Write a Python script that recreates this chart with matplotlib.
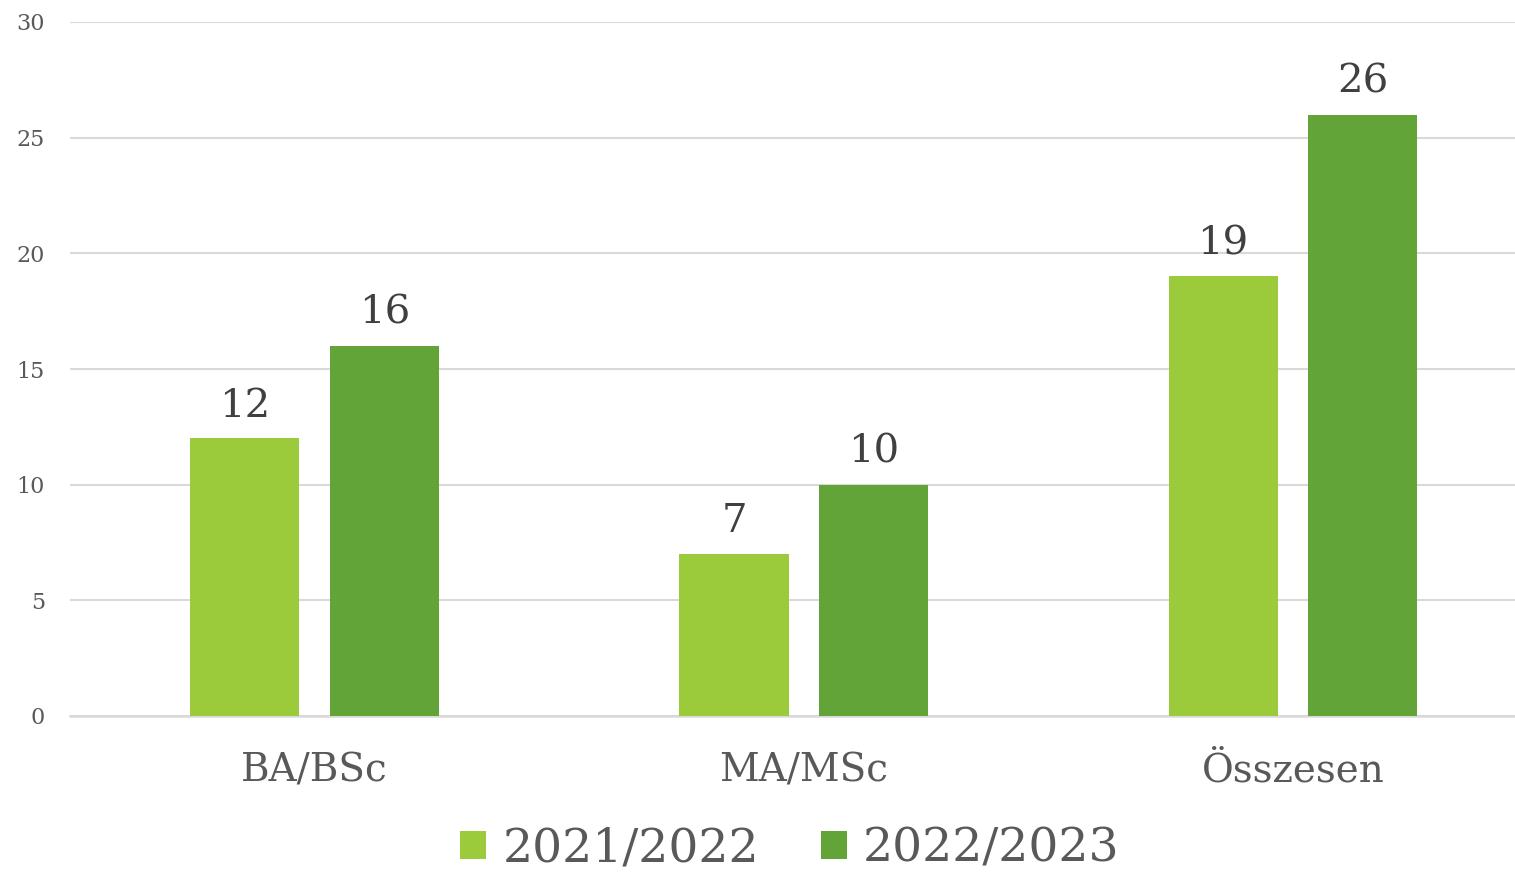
import matplotlib
matplotlib.use("Agg")
import matplotlib.pyplot as plt
import numpy as np
from matplotlib.patches import Patch

categories = ["BA/BSc", "MA/MSc", "Összesen"]
series_names = ["2021/2022", "2022/2023"]
values_2021 = [12, 7, 19]
values_2022 = [16, 10, 26]
yticks = [0, 5, 10, 15, 20, 25, 30]

colors = ["#9BCB3B", "#62A437"]
plt.rcParams['font.family'] = ['DejaVu Serif']

fig = plt.figure(figsize=(15.15, 8.73), dpi=100)
ax = fig.add_axes([70/1515, 157/873, 1445/1515, 694/873])

x = np.arange(len(categories))
w = 0.223
off = 0.1426
for vals, c, o in [(values_2021, colors[0], -off), (values_2022, colors[1], off)]:
    bars = ax.bar(x + o, vals, width=w, color=c, zorder=3)
    for b, v in zip(bars, vals):
        ax.annotate(str(v), (b.get_x() + b.get_width()/2, v), xytext=(0, 10),
                    textcoords="offset points", ha="center", va="bottom",
                    fontsize=29, color="#404040")

ax.set_ylim(0, 30)
ax.set_xlim(-0.5, 2.454)
ax.set_yticks(yticks)
ax.set_yticklabels([str(t) for t in yticks], fontsize=16, color="#595959")
ax.set_xticks(x)
ax.set_xticklabels(categories, fontsize=28, color="#595959")
ax.tick_params(axis="y", length=0, pad=18)
ax.tick_params(axis="x", length=0, pad=26)
ax.grid(axis="y", color="#D9D9D9", linewidth=1.5, zorder=0)
for s in ["top", "right", "left"]:
    ax.spines[s].set_visible(False)
ax.spines["bottom"].set_color("#D9D9D9")
ax.spines["bottom"].set_linewidth(1.8)

handles = [Patch(facecolor=c) for c in colors]
fig.legend(handles, series_names, loc="center", bbox_to_anchor=(790/1515, 24/873),
           ncol=2, frameon=False, fontsize=34, labelcolor="#595959",
           handlelength=0.55, handleheight=0.55, handletextpad=0.35, columnspacing=1.3)

fig.savefig("out.png", dpi=100)
